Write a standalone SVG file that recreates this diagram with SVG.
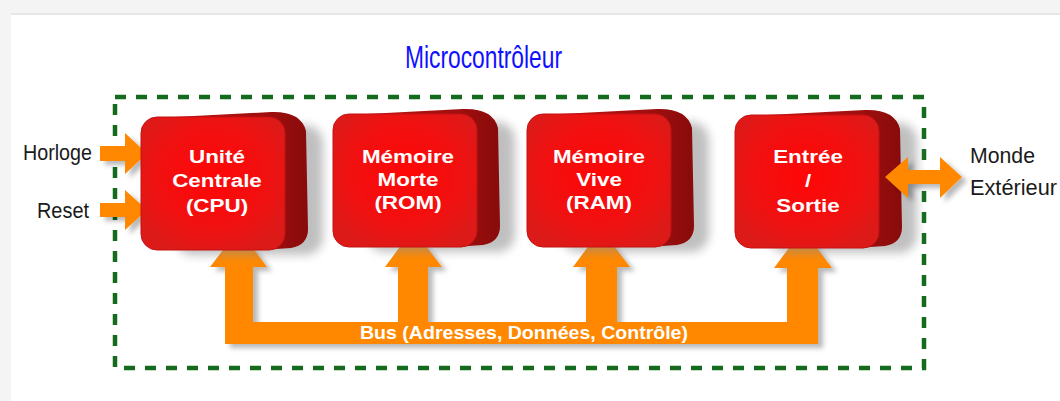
<svg xmlns="http://www.w3.org/2000/svg" width="1060" height="401" viewBox="0 0 1060 401">
  <defs>
    <style>
      .lbl { font-family: "Liberation Sans", Arial, sans-serif; fill: #1a1a1a; font-size: 22px; }
      .box-txt { font-family: "Liberation Sans", Arial, sans-serif; font-weight: bold; font-size: 19px; fill: #ffffff; text-anchor: middle; }
      .bus-txt { font-family: "Liberation Sans", Arial, sans-serif; font-weight: bold; font-size: 19px; fill: #ffffff; }
      .title { font-family: "Liberation Sans", Arial, sans-serif; font-size: 32px; fill: #1010ff; }
      .arrow { fill: #ff8800; filter: url(#arrowShadow); }
      .frame { fill: none; stroke: #146b1e; stroke-width: 4.5; stroke-dasharray: 11 10; }
    </style>
    <radialGradient id="faceGrad" cx="0.5" cy="0.45" r="0.6">
      <stop offset="0" stop-color="#ff0606"/>
      <stop offset="0.6" stop-color="#f21010"/>
      <stop offset="1" stop-color="#dc1a18"/>
    </radialGradient>
    <linearGradient id="sideGrad" x1="0" y1="0" x2="1" y2="0">
      <stop offset="0" stop-color="#c81515"/>
      <stop offset="0.75" stop-color="#9e0e0e"/>
      <stop offset="1" stop-color="#880b0b"/>
    </linearGradient>
    <filter id="boxShadow" x="-20%" y="-20%" width="150%" height="150%">
      <feGaussianBlur stdDeviation="5"/>
    </filter>
    <filter id="arrowShadow" x="-20%" y="-20%" width="150%" height="150%">
      <feDropShadow dx="5" dy="4" stdDeviation="2.5" flood-color="#000" flood-opacity="0.28"/>
    </filter>
    <!-- 3D block: shadow, slanted top/side face, front face -->
    <g id="block">
      <rect x="34" y="8" width="148" height="130" rx="18" fill="#8c8c8c" opacity="0.55" filter="url(#boxShadow)"/>
      <path d="M 14,1 L 130,-5 Q 160,-6 165,14 L 167,112 Q 167,128 150,131 L 120,133 L 120,20 Z" fill="url(#sideGrad)"/>
      <rect x="0" y="0" width="144" height="133" rx="16" fill="url(#faceGrad)" stroke="#c41212" stroke-width="1"/>
    </g>
  </defs>

  <!-- page background -->
  <rect width="1060" height="401" fill="#f4f4f4"/>
  <rect x="11" y="13" width="1049" height="3" fill="#e6e6e6"/>
  <rect x="11" y="15" width="1049" height="386" fill="#ffffff"/>

  <text class="title" x="405" y="68" textLength="157" lengthAdjust="spacingAndGlyphs">Microcontrôleur</text>

  <rect class="frame" x="115" y="97" width="809" height="271"/>

  <g id="connectors">
    <!-- system bus -->
    <polygon class="arrow" points="225,344 225,267 210,267 239,229 267,267 253,267 253,322 398,322 398,267 385,267 413,229 442,267 428,267 428,322 586,322 586,267 573,267 601,229 630,267 617,267 617,322 787,322 787,268 774,268 803,229 832,268 818,268 818,344"/>
    <!-- clock input -->
    <polygon class="arrow" points="100,146 125,146 125,133 147,153.5 125,174 125,161 100,161"/>
    <!-- reset input -->
    <polygon class="arrow" points="100,203 125,203 125,190 147,210 125,230 125,217 100,217"/>
  </g>

  <g id="cpu" transform="translate(141,117)">
    <use href="#block"/>
    <g transform="translate(76,0) scale(1.18,1)">
      <text class="box-txt" x="0" y="46">Unité</text>
      <text class="box-txt" x="0" y="70">Centrale</text>
      <text class="box-txt" x="0" y="95">(CPU)</text>
    </g>
  </g>

  <g id="rom" transform="translate(333,114)">
    <use href="#block"/>
    <g transform="translate(75,0) scale(1.18,1)">
      <text class="box-txt" x="0" y="49">Mémoire</text>
      <text class="box-txt" x="0" y="72">Morte</text>
      <text class="box-txt" x="0" y="95">(ROM)</text>
    </g>
  </g>

  <g id="ram" transform="translate(527,114)">
    <use href="#block"/>
    <g transform="translate(72,0) scale(1.18,1)">
      <text class="box-txt" x="0" y="49">Mémoire</text>
      <text class="box-txt" x="0" y="72">Vive</text>
      <text class="box-txt" x="0" y="95">(RAM)</text>
    </g>
  </g>

  <g id="io" transform="translate(735,115)">
    <use href="#block"/>
    <g transform="translate(73,0) scale(1.18,1)">
      <text class="box-txt" x="0" y="48">Entrée</text>
      <text class="box-txt" x="0" y="72">/</text>
      <text class="box-txt" x="0" y="97">Sortie</text>
    </g>
  </g>

  <g id="connectors-front">
    <!-- bidirectional link to the outside world -->
    <polygon class="arrow" points="885,177 908,157 908,170 940,170 940,157 962,177 940,198 940,184 908,184 908,198"/>
  </g>

  <text class="bus-txt" x="360" y="339" textLength="328" lengthAdjust="spacingAndGlyphs">Bus (Adresses, Données, Contrôle)</text>

  <g id="labels">
    <text class="lbl" x="23" y="160" textLength="69" lengthAdjust="spacingAndGlyphs">Horloge</text>
    <text class="lbl" x="37" y="218" textLength="52" lengthAdjust="spacingAndGlyphs">Reset</text>
    <text class="lbl" x="970" y="163" textLength="65" lengthAdjust="spacingAndGlyphs">Monde</text>
    <text class="lbl" x="970" y="195" textLength="87" lengthAdjust="spacingAndGlyphs">Extérieur</text>
  </g>
</svg>
